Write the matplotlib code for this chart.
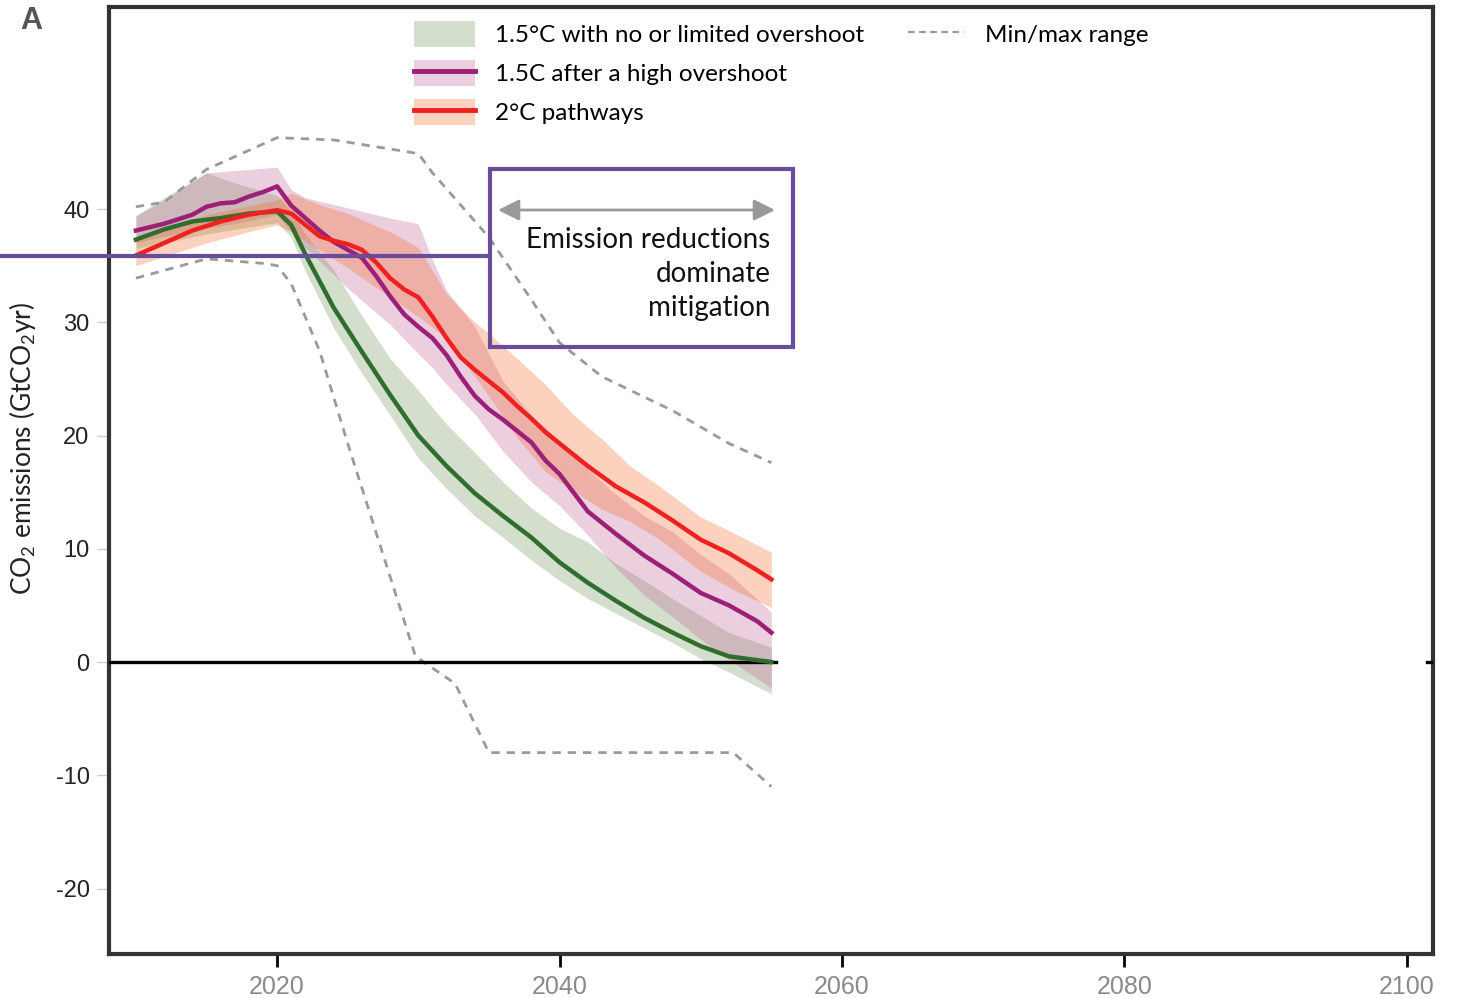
import matplotlib
matplotlib.use("Agg")
import matplotlib.pyplot as plt
from matplotlib.patches import Patch, Rectangle
from matplotlib.lines import Line2D

plt.rcParams['font.family'] = ['Lato', 'DejaVu Sans']
plt.rcParams['mathtext.fontset'] = 'custom'
plt.rcParams['mathtext.rm'] = 'Lato'

# 1.5C with no or limited overshoot (median + range)
green_yr = [2010, 2012, 2014, 2016, 2018, 2020, 2021, 2022, 2024, 2026, 2028, 2030, 2032, 2034,
            2036, 2038, 2040, 2042, 2044, 2046, 2048, 2050, 2052, 2055]
green_med = [37.3, 38.2, 38.9, 39.2, 39.6, 39.8, 38.6, 36.0, 31.3, 27.4, 23.6, 20.0, 17.3, 14.9,
             12.9, 11.0, 8.8, 7.0, 5.4, 3.9, 2.6, 1.4, 0.5, 0.0]
green_band_yr = [2010, 2012, 2015, 2017, 2020, 2021, 2022, 2024, 2026, 2028, 2030, 2032, 2034, 2036,
                 2038, 2040, 2042, 2044, 2046, 2048, 2050, 2052, 2055]
green_hi = [39.4, 41.0, 43.2, 42.3, 41.2, 39.8, 37.8, 34.6, 30.6, 26.8, 24.0, 21.0, 18.5, 15.9,
            13.6, 11.8, 10.6, 8.7, 7.2, 5.6, 4.1, 2.6, 1.3]
green_lo = [36.5, 37.0, 37.8, 38.2, 38.8, 37.5, 34.5, 29.5, 25.5, 21.8, 18.0, 15.3, 12.9, 11.0,
            9.0, 7.2, 5.6, 4.3, 3.0, 1.7, 0.3, -0.9, -2.8]

# 1.5C after a high overshoot
purple_yr = [2010, 2012, 2014, 2015, 2016, 2017, 2018, 2019, 2020, 2021, 2022, 2023, 2024, 2025,
             2026, 2027, 2028, 2029, 2030, 2031, 2032, 2033, 2034, 2035, 2036, 2037, 2038, 2039,
             2040, 2042, 2044, 2046, 2048, 2050, 2052, 2054, 2055]
purple_med = [38.1, 38.7, 39.5, 40.2, 40.5, 40.6, 41.1, 41.5, 42.0, 40.3, 39.2, 38.1, 37.1, 36.4,
              35.7, 34.1, 32.3, 30.7, 29.6, 28.6, 27.1, 25.2, 23.5, 22.3, 21.4, 20.4, 19.4, 17.8,
              16.6, 13.3, 11.3, 9.4, 7.8, 6.1, 5.0, 3.6, 2.6]
purple_band_yr = [2010, 2012, 2015, 2017, 2020, 2021, 2022, 2025, 2028, 2030, 2031, 2032, 2034,
                  2036, 2038, 2040, 2042, 2044, 2046, 2048, 2050, 2052, 2055]
purple_hi = [39.4, 40.8, 43.2, 43.4, 43.7, 41.7, 41.0, 40.1, 39.2, 38.7, 35.5, 32.8, 29.6,
             24.8, 21.8, 19.5, 17.0, 14.8, 12.9, 11.5, 9.5, 7.8, 4.4]
purple_lo = [37.0, 37.6, 38.3, 38.7, 39.5, 38.0, 36.6, 33.0, 29.8, 27.2, 26.0, 24.5, 21.9,
             18.6, 15.9, 13.8, 11.2, 8.3, 5.9, 4.0, 2.0, 0.2, -2.3]

# 2C pathways
red_yr = [2010, 2012, 2014, 2016, 2018, 2020, 2021, 2022, 2023, 2024, 2025, 2026, 2027, 2028,
          2029, 2030, 2031, 2032, 2033, 2034, 2035, 2036, 2037, 2038, 2039, 2040, 2042, 2044,
          2046, 2048, 2050, 2052, 2054, 2055]
red_med = [35.9, 37.0, 38.1, 38.9, 39.5, 39.9, 39.6, 38.6, 37.6, 37.2, 36.9, 36.4, 35.3, 33.9,
           32.9, 32.2, 30.5, 28.6, 26.9, 25.8, 24.8, 23.8, 22.6, 21.5, 20.3, 19.3, 17.3, 15.5,
           14.1, 12.5, 10.8, 9.6, 8.1, 7.3]
red_band_yr = [2010, 2012, 2015, 2018, 2020, 2021, 2023, 2025, 2028, 2030, 2032, 2034, 2035,
               2037, 2039, 2041, 2043, 2045, 2047, 2050, 2052, 2055]
red_hi = [37.3, 38.3, 39.5, 40.3, 40.8, 41.4, 40.4, 39.6, 38.0, 36.6, 32.5, 30.0, 29.0,
          26.8, 24.5, 21.8, 19.7, 17.3, 15.6, 12.8, 11.6, 9.7]
red_lo = [35.0, 35.8, 37.0, 38.0, 38.6, 38.0, 36.4, 34.8, 32.2, 30.5, 28.6, 25.2, 23.5,
          19.8, 16.8, 15.1, 13.5, 12.4, 10.9, 8.0, 6.6, 4.8]

# min/max range of all pathways
range_hi_yr = [2010, 2012, 2015, 2020, 2024, 2030, 2031, 2035, 2038, 2040, 2043, 2048, 2052, 2055]
range_hi = [40.2, 40.6, 43.5, 46.3, 46.1, 44.9, 43.2, 37.5, 32.0, 28.2, 25.2, 22.2, 19.3, 17.6]
range_lo_yr = [2010, 2015, 2019, 2020, 2021, 2023, 2025, 2027.5, 2029.8, 2032.6, 2035, 2052.3, 2055]
range_lo = [33.9, 35.6, 35.2, 35.0, 33.4, 27.5, 19.3, 9.5, 0.5, -1.9, -8.0, -8.0, -11.0]

x_ticks = [2020, 2040, 2060, 2080, 2100]
y_ticks = [-20, -10, 0, 10, 20, 30, 40]

green_line = '#2f6e2c'
green_fill = (115/255, 148/255, 92/255)
purple_line = '#9c1f78'
purple_fill = (192/255, 98/255, 148/255)
red_line = '#ef2020'
red_fill = (248/255, 105/255, 38/255)
box_col = '#6a4c9c'
dash_col = '#9a9a9a'

fig = plt.figure(figsize=(14.6, 9.98), dpi=100)
ax = fig.add_axes([0.0747, 0.0441, 0.9068, 0.9489])

ax.fill_between(green_band_yr, green_lo, green_hi, color=green_fill, alpha=0.3, lw=0)
ax.fill_between(purple_band_yr, purple_lo, purple_hi, color=purple_fill, alpha=0.3, lw=0)
ax.fill_between(red_band_yr, red_lo, red_hi, color=red_fill, alpha=0.3, lw=0)

ax.plot(range_hi_yr, range_hi, color=dash_col, lw=2, ls=(0, (3, 2.5)))
ax.plot(range_lo_yr, range_lo, color=dash_col, lw=2, ls=(0, (3, 2.5)))

ax.plot([2008, 2055.3], [0, 0], color='black', lw=2.4, zorder=3)
ax.plot([2101.4, 2102], [0, 0], color='black', lw=2.4, zorder=3)

ax.plot(green_yr, green_med, color=green_line, lw=3.2, zorder=4)
ax.plot(purple_yr, purple_med, color=purple_line, lw=3.2, zorder=4)
ax.plot(red_yr, red_med, color=red_line, lw=3.2, zorder=4)

ax.set_xlim(2008.1, 2101.85)
ax.set_ylim(-25.78, 57.84)
ax.set_xticks(x_ticks)
ax.set_yticks(y_ticks)
ax.set_xticklabels([str(t) for t in x_ticks], family=['Liberation Sans', 'DejaVu Sans'],
                   fontsize=18, color='#8a8a8a')
ax.set_yticklabels([str(t) for t in y_ticks], family=['Liberation Sans', 'DejaVu Sans'],
                   fontsize=17, color='#222222')
ax.tick_params(axis='y', length=9, width=1, color='#cccccc', pad=5)
ax.tick_params(axis='x', length=9, width=2, color='black', pad=6)
for s in ax.spines.values():
    s.set_color('#333333')
    s.set_linewidth(3)

fig.text(0.0151, 0.5505, 'CO$_2$ emissions (GtCO$_2$yr)', rotation=90, ha='center', va='center',
         fontsize=19, color='#222222')
fig.text(0.0137, 0.979, 'A', ha='left', va='center', fontsize=22, fontweight='bold',
         color='#555555', family=['Liberation Sans', 'DejaVu Sans'])

# annotation box
ax.add_patch(Rectangle((0.2878, 0.641), 0.2288, 0.188, transform=ax.transAxes, fill=False,
                       edgecolor=box_col, lw=3, zorder=6))
ax.plot([-0.0823, 0.2878], [0.737, 0.737], transform=ax.transAxes, color=box_col, lw=3,
        clip_on=False, zorder=6, solid_capstyle='butt')
ax.annotate('', xy=(0.503, 0.7856), xytext=(0.2938, 0.7856), xycoords='axes fraction',
            arrowprops=dict(arrowstyle='<|-|>', color='#999999', lw=2, mutation_scale=32,
                            shrinkA=0, shrinkB=0), zorder=6)
ax.text(0.4995, 0.718, 'Emission reductions\ndominate\nmitigation', transform=ax.transAxes,
        ha='right', va='center', multialignment='right', fontsize=20, linespacing=1.36,
        color='#111111', zorder=6)

# legends
h1 = Patch(facecolor=green_fill, alpha=0.3, edgecolor='none')
h2 = (Patch(facecolor=purple_fill, alpha=0.3, edgecolor='none'), Line2D([], [], color=purple_line, lw=3.5))
h3 = (Patch(facecolor=red_fill, alpha=0.3, edgecolor='none'), Line2D([], [], color=red_line, lw=3.5))
leg1 = ax.legend([h1, h2, h3], ['1.5°C with no or limited overshoot', '1.5C after a high overshoot',
                               '2°C pathways'],
                 loc='upper left', bbox_to_anchor=(414/1460, 1-21/998), bbox_transform=fig.transFigure,
                 frameon=False, borderpad=0, borderaxespad=0, fontsize=17.5, handlelength=2.5,
                 handleheight=1.25, handletextpad=0.85, labelspacing=0.55)
ax.add_artist(leg1)
hd = Line2D([], [], color=dash_col, lw=1.6, ls=(0, (3, 2)))
ax.legend([hd], ['Min/max range'], loc='upper left', bbox_to_anchor=(908/1460, 1-21/998),
          bbox_transform=fig.transFigure, frameon=False, borderpad=0, borderaxespad=0,
          fontsize=17.5, handlelength=2.3, handleheight=1.25, handletextpad=0.85)

fig.savefig('out.png', dpi=100)
